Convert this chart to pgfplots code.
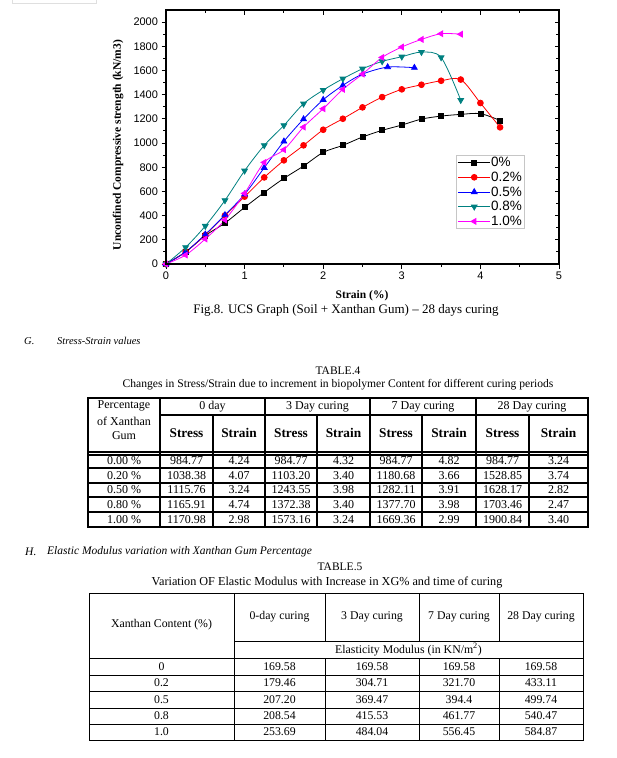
\documentclass[border=0pt]{standalone}
\usepackage{pgfplots}
\pgfplotsset{compat=1.18}
\usepackage{fontspec}
\setmainfont{Liberation Serif}
\newfontfamily\arial{Liberation Sans}
\definecolor{cteal}{RGB}{0,128,128}
\definecolor{cmag}{RGB}{255,0,255}
\definecolor{cred}{RGB}{255,0,0}
\definecolor{cblue}{RGB}{0,0,255}
\newcommand{\fs}[1]{\fontsize{#1bp}{#1bp}\selectfont}
\def\ry{0}
\newcommand{\trow}[9]{%
\node at (124,\ry){#1};\node at (186.5,\ry){#2};\node at (239,\ry){#3};
\node at (291,\ry){#4};\node at (343.5,\ry){#5};\node at (396,\ry){#6};
\node at (449,\ry){#7};\node at (502.5,\ry){#8};\node at (558.5,\ry){#9};}
\newcommand{\frow}[5]{%
\node at (161.5,\ry){#1};\node at (279.5,\ry){#2};\node at (372,\ry){#3};
\node at (459,\ry){#4};\node at (541,\ry){#5};}
\begin{document}
\begin{tikzpicture}[x=1bp,y=1bp]
\useasboundingbox (0,0) rectangle (617,-758);
\draw[gray!25, line width=0.6bp] (12,0) -- (12,-3) -- (96,-3) -- (96,0);
% ---------- chart ----------
\begin{axis}[at={(166bp,-264bp)}, anchor=south west, scale only axis,
 width=393bp, height=254bp,
 xmin=0, xmax=5, ymin=0, ymax=2100,
 xtick={0,1,2,3,4,5}, ytick={0,200,...,2000},
 minor x tick num=1, minor y tick num=1,
 tick align=outside, xtick pos=left, ytick pos=left,
 axis line style={line width=1.1bp},
 tick style={line width=1bp,black},
 major tick length=4.5bp, minor tick length=3bp,
 ticklabel style={font=\arial\fs{11}},
 /pgf/number format/assume math mode=true,
 /pgf/number format/1000 sep={}, scaled ticks=false,
 legend cell align=left,
 legend style={at={(0.738,0.429)}, anchor=north west, draw=gray!45,
   line width=0.6bp, font=\arial\fs{13.5}, inner sep=1.5bp, row sep=3.2bp,
   nodes={inner sep=0.5bp, text height=9.5bp, text depth=1bp}},
 legend image code/.code={\draw[mark repeat=2,mark phase=2,#1] plot coordinates {(0bp,0bp)(16bp,0bp)(32bp,0bp)};},
 every axis plot/.append style={line width=0.8bp, smooth, mark options={solid}},
]
\addplot[black, mark=square*, mark size=2.5bp] coordinates {
(0,0)(0.25,100)(0.5,235)(0.75,339)(1,468)(1.25,592)(1.5,708)(1.75,810)(2,923)(2.25,981)(2.5,1050)(2.75,1105)(3,1149)(3.25,1198)(3.5,1223)(3.75,1237)(4,1243)(4.25,1187)};
\addlegendentry{0\%}
\addplot[cred, mark=*, mark size=2.9bp] coordinates {
(0,0)(0.25,100)(0.5,240)(0.75,402)(1,557)(1.25,716)(1.5,857)(1.75,981)(2,1110)(2.25,1201)(2.5,1295)(2.75,1380)(3,1444)(3.25,1482)(3.5,1515)(3.75,1525)(4,1331)(4.25,1130)};
\addlegendentry{0.2\%}
\addplot[cblue, mark=triangle*, mark size=3.3bp] coordinates {
(0,0)(0.25,100)(0.5,245)(0.75,405)(1,576)(1.25,796)(1.5,1014)(1.75,1198)(2,1358)(2.25,1477)(2.5,1570)(2.82,1628)(3.16,1623)};
\addlegendentry{0.5\%}
\addplot[cteal, mark=triangle*, mark size=3.3bp, mark options={rotate=180}] coordinates {
(0,0)(0.25,138)(0.5,314)(0.75,526)(1,771)(1.25,981)(1.5,1146)(1.75,1325)(2,1438)(2.25,1532)(2.5,1614)(2.75,1675)(3,1714)(3.25,1752)(3.5,1708)(3.75,1355)};
\addlegendentry{0.8\%}
\addplot[cmag, mark=triangle*, mark size=3.3bp, mark options={rotate=90}] coordinates {
(0,0)(0.25,74)(0.5,207)(0.75,364)(1,584)(1.25,840)(1.5,945)(1.75,1132)(2,1284)(2.25,1444)(2.5,1570)(2.75,1708)(3,1794)(3.25,1857)(3.5,1904)(3.75,1900)};
\addlegendentry{1.0\%}
\end{axis}
\begin{axis}[at={(166bp,-264bp)}, anchor=south west, scale only axis,
 width=393bp, height=254bp,
 xmin=0, xmax=5, ymin=0, ymax=2100,
 xtick={0,1,2,3,4,5}, ytick={0,200,...,2000},
 minor x tick num=1, minor y tick num=1,
 tick align=inside, xtick pos=right, ytick pos=right,
 xticklabels={}, yticklabels={},
 axis line style={line width=1.1bp},
 tick style={line width=1bp,black},
 major tick length=4.5bp, minor tick length=3bp]
\end{axis}
\node[rotate=90, font=\bfseries\fs{11.5}] at (118,-145) {Unconfined Compressive strength (kN/m3)};
\node[font=\bfseries\fs{11.5}] at (362,-296) {Strain (\%)};
\node[font=\fs{13}] at (346,-310.5) {Fig.8. UCS Graph (Soil + Xanthan Gum) – 28 days curing};
% ---------- section G ----------
\node[anchor=west, font=\itshape\fs{10.5}, inner sep=0] at (24,-341) {G.};
\node[anchor=west, font=\itshape\fs{10.5}, inner sep=0] at (57,-341) {Stress-Strain values};
\node[font=\fs{11.5}] at (338,-371) {TABLE.4};
\node[font=\fs{11.6}] at (338,-385) {Changes in Stress/Strain due to increment in biopolymer Content for different curing periods};
% table 4 lines
\begin{scope}[line width=1.3bp]
\draw[line width=1.8bp] (88,-398) rectangle (588,-527);
\foreach \x in {160,265,370,476} \draw (\x,-398) -- (\x,-527);
\foreach \x in {213,317,422,529} \draw (\x,-415) -- (\x,-527);
\draw (160,-415) -- (588,-415);
\foreach \y in {452,455,468,483,497,512} \draw (88,-\y) -- (588,-\y);
\end{scope}
\begin{scope}[font=\fs{12}]
\node at (124,-405.5) {Percentage};
\node at (124,-421) {of Xanthan};
\node at (124,-436) {Gum};
\node at (212.5,-406.5) {0 day};
\node at (317.5,-406.5) {3 Day curing};
\node at (423,-406.5) {7 Day curing};
\node at (532,-406.5) {28 Day curing};
\end{scope}
\begin{scope}[font=\bfseries\fs{13.3}]
\def\ry{-433}
\trow{}{Stress}{Strain}{Stress}{Strain}{Stress}{Strain}{Stress}{Strain}
\end{scope}
\begin{scope}[font=\fs{12}]
\def\ry{-461}
\trow{0.00 \%}{984.77}{4.24}{984.77}{4.32}{984.77}{4.82}{984.77}{3.24}
\def\ry{-475.5}
\trow{0.20 \%}{1038.38}{4.07}{1103.20}{3.40}{1180.68}{3.66}{1528.85}{3.74}
\def\ry{-490}
\trow{0.50 \%}{1115.76}{3.24}{1243.55}{3.98}{1282.11}{3.91}{1628.17}{2.82}
\def\ry{-504.5}
\trow{0.80 \%}{1165.91}{4.74}{1372.38}{3.40}{1377.70}{3.98}{1703.46}{2.47}
\def\ry{-519.5}
\trow{1.00 \%}{1170.98}{2.98}{1573.16}{3.24}{1669.36}{2.99}{1900.84}{3.40}
\end{scope}
% ---------- section H ----------
\node[anchor=west, font=\itshape\fs{11.5}, inner sep=0] at (25,-552) {H.};
\node[anchor=west, font=\itshape\fs{11.5}, inner sep=0] at (47,-552) {Elastic Modulus variation with Xanthan Gum Percentage};
\node[font=\fs{11.5}] at (340,-567) {TABLE.5};
\node[font=\fs{12.2}] at (327,-582.5) {Variation OF Elastic Modulus with Increase in XG\% and time of curing};
\begin{scope}[line width=1bp]
\draw (89,-593) rectangle (583,-740);
\draw (234,-593) -- (234,-740);
\foreach \x in {325,419,499} {\draw (\x,-593) -- (\x,-641); \draw (\x,-658) -- (\x,-740);}
\draw (234,-641) -- (583,-641);
\foreach \y in {658,675,691,708,724} \draw (89,-\y) -- (583,-\y);
\end{scope}
\begin{scope}[font=\fs{11.8}]
\node at (161.5,-625) {Xanthan Content (\%)};
\node at (279.5,-617) {0-day curing};
\node at (372,-617) {3 Day curing};
\node at (459,-617) {7 Day curing};
\node at (541,-617) {28 Day curing};
\node at (408.5,-649.5) {Elasticity Modulus (in KN/m\textsuperscript{2})};
\def\ry{-666.5}
\frow{0}{169.58}{169.58}{169.58}{169.58}
\def\ry{-683}
\frow{0.2}{179.46}{304.71}{321.70}{433.11}
\def\ry{-699.5}
\frow{0.5}{207.20}{369.47}{394.4}{499.74}
\def\ry{-716}
\frow{0.8}{208.54}{415.53}{461.77}{540.47}
\def\ry{-732}
\frow{1.0}{253.69}{484.04}{556.45}{584.87}
\end{scope}
\end{tikzpicture}
\end{document}
